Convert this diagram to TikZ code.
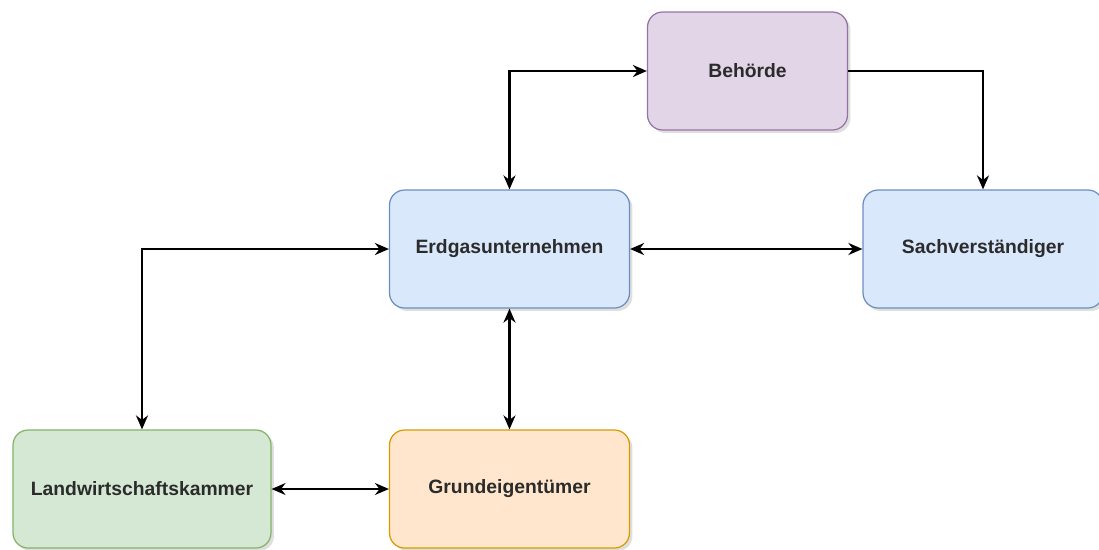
\documentclass[tikz,border=0pt]{standalone}
\usepackage{fontspec}
\setmainfont{Liberation Sans}
\usetikzlibrary{arrows.meta,shadows}
\definecolor{lilafill}{HTML}{E1D5E7}\definecolor{lilaline}{HTML}{9673A6}
\definecolor{blaufill}{HTML}{DAE8FC}\definecolor{blauline}{HTML}{6C8EBF}
\definecolor{gruenfill}{HTML}{D5E8D4}\definecolor{gruenline}{HTML}{82B366}
\definecolor{orangefill}{HTML}{FFE6CC}\definecolor{orangeline}{HTML}{D79B00}
\definecolor{schrift}{HTML}{2B2B2B}
\begin{document}
\begin{tikzpicture}[x=0.02cm, y=-0.02cm,
        font=\fontsize{11}{13}\selectfont\bfseries, text=schrift,
        box/.style={rounded corners=0.3cm, line width=0.7pt, minimum width=4.8cm, minimum height=2.36cm,
            drop shadow={shadow xshift=0.06cm, shadow yshift=-0.06cm, opacity=0.25}},
        link/.style={line width=1.5pt, {Stealth[length=0.28cm,width=0.24cm]}-{Stealth[length=0.28cm,width=0.24cm]}}]
        \useasboundingbox (0,0) rectangle (1099,549);
        \node[box, draw=lilaline, fill=lilafill, minimum width=4.0cm] (behoerde) at (747.5,71) {Behörde};
        \node[box, draw=blauline, fill=blaufill] (erdgas) at (509.5,249) {Erdgasunternehmen};
        \node[box, draw=blauline, fill=blaufill] (sachv) at (983,249) {Sachverständiger};
        \node[box, draw=gruenline, fill=gruenfill, minimum width=5.16cm] (landw) at (142,489) {Landwirtschaftskammer};
        \node[box, draw=orangeline, fill=orangefill] (grund) at (509.5,489) {Grundeigentümer};
        % connectors
        \draw[link] (erdgas.north) |- (behoerde.west);
        \draw[link, {Stealth[length=0.28cm,width=0.24cm]}-] (sachv.north) |- (behoerde.east);
        \draw[link] (erdgas.east) -- (sachv.west);
        \draw[link] (landw.north) |- (erdgas.west);
        \draw[link] (erdgas.south) -- (grund.north);
        \draw[link, line width=0.8pt] (landw.east) -- (grund.west);
\end{tikzpicture}
\end{document}
